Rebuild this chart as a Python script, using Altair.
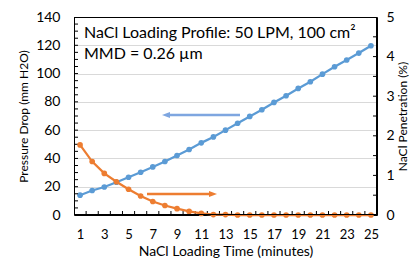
import altair as alt
import pandas as pd

# ---- data ----
minutes = list(range(1, 26))
pressure_drop = [14.0, 17.3, 19.8, 23.2, 26.7, 30.2, 34.0, 37.8, 42.1, 46.3, 51.0, 55.2, 60.0,
                 64.9, 69.7, 74.4, 79.6, 84.3, 89.5, 94.2, 99.6, 104.8, 109.6, 114.5, 119.7]
penetration = [1.77, 1.35, 1.05, 0.84, 0.65, 0.48, 0.34, 0.24, 0.16, 0.09, 0.04, 0.01, 0.01,
               0.0, 0.0, 0.0, 0.0, 0.0, 0.0, 0.0, 0.0, 0.0, 0.0, 0.0, 0.0]
x_tick_labels = list(range(1, 26, 2))
left_tick_labels = list(range(0, 141, 20))
right_tick_labels = [0, 1, 2, 3, 4, 5]
x_tick_marks = [i + 0.5 for i in range(1, 25)]
left_tick_marks = list(range(5, 140, 5))
right_tick_marks = [i * 0.5 for i in range(1, 10)]

title_line1 = "NaCl Loading Profile: 50 LPM, 100 cm²"
title_line2 = "MMD = 0.26 µm"

W, H = 303, 198
BLUE = "#5B9BD5"
ORANGE = "#ED7D31"
ARROW_BLUE = "#7EA6E0"
FONT = "Lato"

df_main = pd.DataFrame({"t": minutes, "pd": pressure_drop, "pen": penetration})
df_xt = pd.DataFrame({"t": x_tick_marks})
df_lt = pd.DataFrame({"pd": left_tick_marks})
df_rt = pd.DataFrame({"pen": right_tick_marks})
df_one = pd.DataFrame({"k": [0]})


def x_enc():
    return alt.X("t:Q",
                 scale=alt.Scale(domain=[0.5, 25.5], nice=False, zero=False),
                 axis=alt.Axis(values=x_tick_labels, title="NaCl Loading Time (minutes)",
                               ticks=False, grid=False, domain=True, domainColor="black",
                               domainWidth=1, labelPadding=13,
                               titlePadding=3, labelFontSize=13, titleFontSize=14,
                               labelFlush=False, labelOverlap=False))


def yl_enc():
    return alt.Y("pd:Q",
                 scale=alt.Scale(domain=[0, 140], nice=False),
                 axis=alt.Axis(values=left_tick_labels, title="Pressure Drop (mm H2O)",
                               ticks=False, grid=True,
                               gridColor=alt.condition("datum.value >= 140",
                                                       alt.value("black"),
                                                       alt.value("#d9d9d9")),
                               domain=True, domainColor="black", domainWidth=1,
                               labelPadding=14, titlePadding=5, labelFontSize=14,
                               titleFontSize=12))


def yr_enc():
    return alt.Y("pen:Q",
                 scale=alt.Scale(domain=[0, 5], nice=False),
                 axis=alt.Axis(values=right_tick_labels, title="NaCl Penetration (%)",
                               orient="right", ticks=False, grid=False,
                               domain=True, domainColor="black", domainWidth=1,
                               labelPadding=9, titlePadding=3, labelFontSize=14,
                               titleFontSize=12, titleAngle=270, titleBaseline="top"))


def rule(**enc):
    return alt.Chart(df_one).mark_rule(color="black", strokeWidth=1).encode(**enc)


blue_line = alt.Chart(df_main).mark_line(
    color=BLUE, strokeWidth=2.25,
    point=alt.OverlayMarkDef(filled=True, size=32, color=BLUE, opacity=1)
).encode(x=x_enc(), y=yl_enc())

left_ticks = alt.Chart(df_lt).mark_rule(color="black", strokeWidth=1).encode(
    y=yl_enc(), x=alt.value(0), x2=alt.value(4))

x_ticks = alt.Chart(df_xt).mark_rule(color="black", strokeWidth=1).encode(
    x=x_enc(), y=alt.value(H), y2=alt.value(H - 4))

text1 = alt.Chart(df_one).mark_text(align="left", baseline="middle", font=FONT,
                                    fontSize=16, fontWeight="normal",
                                    color="black").encode(
    x=alt.value(10), y=alt.value(16), text=alt.value(title_line1))
text2 = alt.Chart(df_one).mark_text(align="left", baseline="middle", font=FONT,
                                    fontSize=16, fontWeight="normal",
                                    color="black").encode(
    x=alt.value(10), y=alt.value(37), text=alt.value(title_line2))

blue_arrow = alt.Chart(df_one).mark_rule(color=ARROW_BLUE, strokeWidth=2.5).encode(
    x=alt.value(94), x2=alt.value(166), y=alt.value(98))
blue_head = alt.Chart(df_one).mark_point(
    shape="M-1,0L1,-0.75L1,0.75Z", filled=True, size=64, color=ARROW_BLUE, opacity=1
).encode(x=alt.value(92), y=alt.value(98))

left = alt.layer(blue_line, left_ticks, x_ticks, blue_arrow, blue_head, text1, text2)

orange_line = alt.Chart(df_main).mark_line(
    color=ORANGE, strokeWidth=2.25,
    point=alt.OverlayMarkDef(filled=True, size=32, color=ORANGE, opacity=1)
).encode(x=x_enc(), y=yr_enc())

right_ticks = alt.Chart(df_rt).mark_rule(color="black", strokeWidth=1).encode(
    y=yr_enc(), x=alt.value(W), x2=alt.value(W - 4))

orange_arrow = alt.Chart(df_one).mark_rule(color=ORANGE, strokeWidth=2.5).encode(
    x=alt.value(73), x2=alt.value(137), y=alt.value(177))
orange_head = alt.Chart(df_one).mark_point(
    shape="M1,0L-1,-0.75L-1,0.75Z", filled=True, size=64, color=ORANGE, opacity=1
).encode(x=alt.value(139), y=alt.value(177))

frame_top = rule(x=alt.value(0), x2=alt.value(W), y=alt.value(0.5))
frame_bottom = rule(x=alt.value(0), x2=alt.value(W), y=alt.value(H - 0.5))
frame_left = rule(x=alt.value(0.5), y=alt.value(0), y2=alt.value(H))
frame_right = rule(x=alt.value(W - 0.5), y=alt.value(0), y2=alt.value(H))

right = alt.layer(orange_line, right_ticks, orange_arrow, orange_head,
                  frame_top, frame_bottom, frame_left, frame_right)

chart = alt.layer(left, right).resolve_scale(y="independent").properties(
    width=W, height=H,
    autosize=alt.AutoSizeParams(type="none"),
    padding={"left": 66, "top": 9, "right": 32, "bottom": 43},
    background="white",
).configure_view(stroke=None).configure_axis(
    labelFont=FONT, titleFont=FONT, labelColor="black", titleColor="black",
    titleFontWeight="normal")

chart.save("out.html", embed_options={"renderer": "svg", "actions": False})
